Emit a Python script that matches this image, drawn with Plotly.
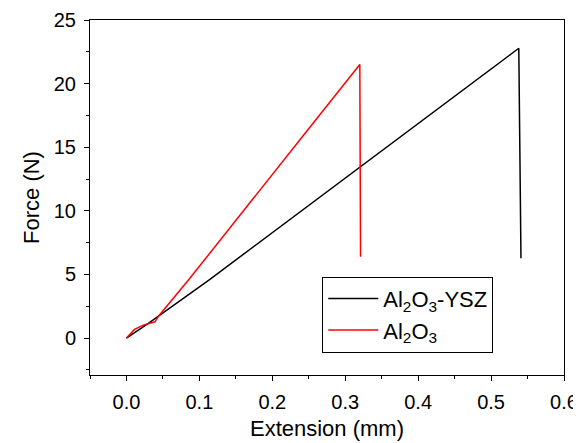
import plotly.graph_objects as go

# Data
ysz_ext = [0.0, 0.03, 0.114, 0.236, 0.32, 0.538, 0.541]
ysz_force = [0.0, 1.15, 4.6, 9.85, 13.47, 22.78, 6.27]

al_ext = [0.0, 0.011, 0.023, 0.039, 0.045, 0.085, 0.236, 0.32, 0.321]
al_force = [0.0, 0.68, 1.02, 1.28, 1.8, 4.56, 15.45, 21.5, 6.4]

names = ["Al<sub>2</sub>O<sub>3</sub>-YSZ", "Al<sub>2</sub>O<sub>3</sub>"]
x_ticks = [0.0, 0.1, 0.2, 0.3, 0.4, 0.5, 0.6]
x_tick_text = ["0.0", "0.1", "0.2", "0.3", "0.4", "0.5", "0.6"]
y_ticks = [0, 5, 10, 15, 20, 25]

FAM = "Liberation Sans, Arial, sans-serif"

fig = go.Figure()
fig.add_trace(go.Scatter(x=ysz_ext, y=ysz_force, mode="lines", name=names[0],
                         line=dict(color="black", width=1.5)))
fig.add_trace(go.Scatter(x=al_ext, y=al_force, mode="lines", name=names[1],
                         line=dict(color="red", width=1.5)))

# page body has an 8px margin, so the figure is sized/placed to compensate
fig.update_layout(
    width=573, height=435,
    margin=dict(l=82, r=17, t=12, b=68),
    plot_bgcolor="white", paper_bgcolor="white",
    font=dict(family=FAM, size=20, color="black"),
    showlegend=True,
    legend=dict(x=0.49, y=0.277, xanchor="left", yanchor="top",
                bordercolor="black", borderwidth=1, bgcolor="white",
                font=dict(family=FAM, size=22, color="black"),
                tracegroupgap=0, itemwidth=50),
)
fig.update_xaxes(
    range=[-0.05, 0.6], tickvals=x_ticks, ticktext=x_tick_text,
    ticks="outside", ticklen=5, tickwidth=1, tickcolor="black",
    minor=dict(dtick=0.05, tick0=0, ticks="outside", ticklen=3, tickcolor="black"),
    showline=True, linecolor="black", linewidth=1, mirror=True,
    showgrid=False, zeroline=False, automargin=False,
    title=dict(text="Extension (mm)", font=dict(family=FAM, size=22), standoff=8),
    tickfont=dict(family=FAM, size=20),
    ticklabelstandoff=4,
)
fig.update_yaxes(
    range=[-2.9, 25], tickvals=y_ticks,
    ticks="outside", ticklen=5, tickwidth=1, tickcolor="black",
    minor=dict(dtick=2.5, tick0=0, ticks="outside", ticklen=3, tickcolor="black"),
    showline=True, linecolor="black", linewidth=1, mirror=True,
    showgrid=False, zeroline=False, automargin=False,
    title=dict(text="Force (N)", font=dict(family=FAM, size=22), standoff=8),
    tickfont=dict(family=FAM, size=20),
    ticklabelstandoff=4,
)

fig.write_html("out.html")
